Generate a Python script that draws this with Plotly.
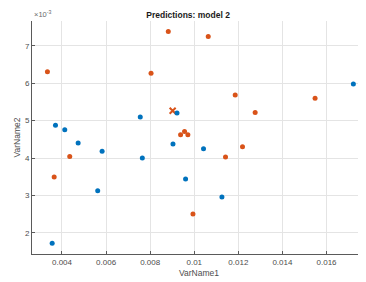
import plotly.graph_objects as go

# Data (y values in units of 1e-3 as shown by the axis multiplier)
blue_x = [0.003705, 0.004126, 0.00755, 0.009217, 0.017216, 0.004733, 0.00582,
          0.00562, 0.003555, 0.007645, 0.009035, 0.009606, 0.01042, 0.011254]
blue_y = [4.88, 4.757, 5.096, 5.203, 5.98, 4.40, 4.18,
          3.126, 1.717, 4.00, 4.374, 3.44, 4.25, 2.957]
orange_x = [0.00334, 0.008822, 0.00804, 0.00938, 0.00956, 0.00971, 0.010634,
            0.011857, 0.012763, 0.01548, 0.004352, 0.003646, 0.00994, 0.012188, 0.011418]
orange_y = [6.31, 7.385, 6.27, 4.623, 4.71, 4.623, 7.25,
            5.69, 5.22, 5.60, 4.04, 3.49, 2.503, 4.30, 4.027]
query_x = [0.00902]
query_y = [5.265]

x_ticks = [0.004, 0.006, 0.008, 0.010, 0.012, 0.014, 0.016]
x_tick_labels = ["0.004", "0.006", "0.008", "0.01", "0.012", "0.014", "0.016"]
y_ticks = [2, 3, 4, 5, 6, 7]
y_tick_labels = ["2", "3", "4", "5", "6", "7"]

BLUE = "#0072BD"
ORANGE = "#D95319"
FONT = "Liberation Sans, Arial, sans-serif"

# The page body adds an 8px margin, so the figure is sized to fill the rest.
fig = go.Figure()
fig.add_trace(go.Scatter(x=query_x, y=query_y, mode="markers",
                         marker=dict(symbol="x-thin", size=6, color=ORANGE,
                                     line=dict(color=ORANGE, width=2)),
                         showlegend=False))
fig.add_trace(go.Scatter(x=blue_x, y=blue_y, mode="markers",
                         marker=dict(size=5, color=BLUE, line=dict(width=0)),
                         showlegend=False))
fig.add_trace(go.Scatter(x=orange_x, y=orange_y, mode="markers",
                         marker=dict(size=5, color=ORANGE, line=dict(width=0)),
                         showlegend=False))

fig.update_layout(
    width=358, height=274,
    margin=dict(l=24, r=0, t=13, b=28),
    paper_bgcolor="white", plot_bgcolor="white",
    font=dict(family=FONT, size=8, color="#4d4d4d"),
    title=dict(text="<b>Predictions: model 2</b>", x=0.503, xanchor="center",
               y=0.9745, yanchor="middle", automargin=False,
               font=dict(family=FONT, size=8.5, color="#1a1a1a")),
    xaxis=dict(range=[0.00264, 0.01779], tickvals=x_ticks, ticktext=x_tick_labels,
               showgrid=True, gridcolor="#e4e4e4", gridwidth=1,
               showline=True, linecolor="#5a5a5a", linewidth=1,
               ticks="inside", ticklen=3, tickcolor="#5a5a5a",
               zeroline=False, automargin=False),
    yaxis=dict(range=[1.43, 7.668], tickvals=y_ticks, ticktext=y_tick_labels,
               showgrid=True, gridcolor="#e4e4e4", gridwidth=1,
               showline=True, linecolor="#5a5a5a", linewidth=1,
               ticks="inside", ticklen=3, tickcolor="#5a5a5a",
               zeroline=False, automargin=False),
    annotations=[
        dict(text="×10<sup>-3</sup>", xref="paper", yref="paper",
             x=0.0, y=1.0, xanchor="left", yanchor="bottom", yshift=0,
             showarrow=False, font=dict(family=FONT, size=7.5, color="#6a6a6a")),
        dict(text="VarName1", xref="paper", yref="paper",
             x=0.5, y=0, xanchor="center", yanchor="middle", yshift=-19,
             showarrow=False, font=dict(family=FONT, size=8.5, color="#4d4d4d")),
        dict(text="VarName2", xref="paper", yref="paper", textangle=-90,
             x=0, y=0.5, xanchor="center", yanchor="middle", xshift=-16,
             showarrow=False, font=dict(family=FONT, size=8.5, color="#4d4d4d")),
    ],
)

fig.write_html("out.html")
